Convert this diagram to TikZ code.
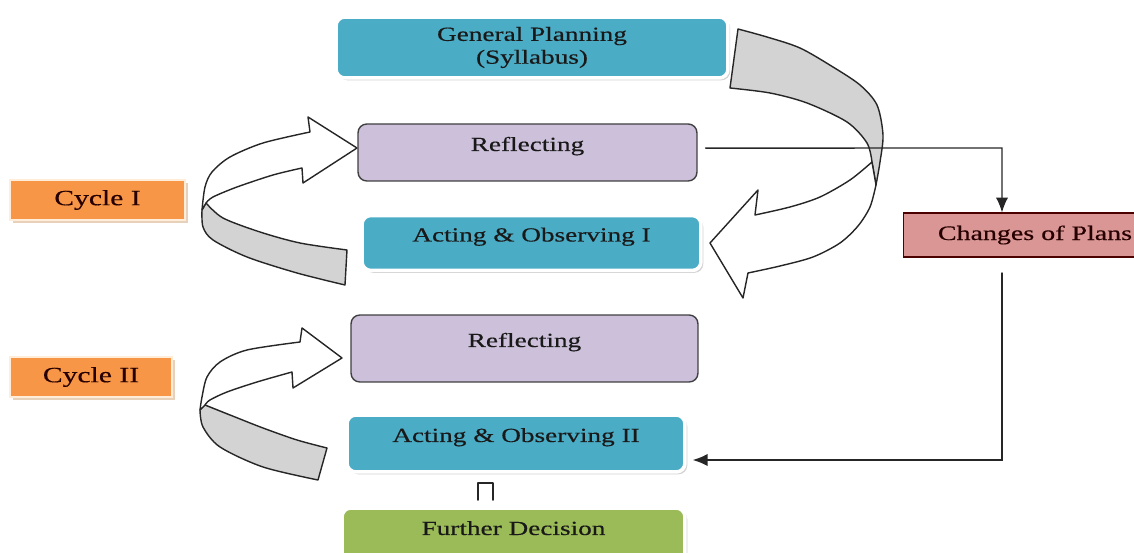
\documentclass[tikz,border=0pt]{standalone}
\usepackage{fontspec}
\setmainfont{Liberation Serif}[FakeStretch=1.36,FakeBold=0.4]
\usetikzlibrary{shadows,arrows.meta}
\definecolor{aqua}{HTML}{4BACC6}
\definecolor{lilac}{HTML}{CCC0DA}
\definecolor{tangerine}{HTML}{F79646}
\definecolor{olive}{HTML}{9BBB59}
\definecolor{rose}{HTML}{D99694}
\definecolor{backside}{HTML}{D3D3D3}
\tikzset{
	box/.style={rectangle,rounded corners=5pt,inner sep=2pt,text=black!90,
		font=\fontsize{11.4}{13}\selectfont},
	glowbox/.style={box,draw=white,line width=2pt,
		drop shadow={shadow xshift=1.3pt,shadow yshift=-1.3pt,fill=black!35,opacity=.5}},
	bluebox/.style={glowbox,fill=aqua},
	greenbox/.style={glowbox,fill=olive},
	purplebox/.style={box,fill=lilac,draw=black!75,line width=.8pt},
	cyclebox/.style={rectangle,fill=tangerine,draw=orange!15,line width=1.5pt,
		text=black!85!red,font=\fontsize{12.4}{14}\selectfont,
		drop shadow={shadow xshift=1.5pt,shadow yshift=-1.5pt,fill=brown!60,opacity=.6}},
	changebox/.style={rectangle,fill=rose,draw=black!70!red,line width=.6pt,
		text=black!85!red,font=\fontsize{11.7}{13}\selectfont},
	raised/.style={text height=.3cm,text depth=.36cm},
	ribbon/.style={draw=black!85,line width=.8pt,line join=round},
	link/.style={draw=black!85,line width=.8pt},
}
\begin{document}
\begin{tikzpicture}[>={Latex[length=8.5pt,width=7pt]},x=0.02cm,y=-0.02cm,line cap=round]
	\clip (0,0) rectangle (1134,553);
	% big sweep from the plan down to the first cycle
	\filldraw[ribbon,fill=backside] plot[smooth] coordinates {(738,29) (767,37) (800,48) (833,67) (860,85) (877,105) (883,135) (880,162) (876,185)}
		-- (872,162) -- plot[smooth] coordinates {(872,162) (867,143) (847,122) (807,103) (770,93) (730,88)} -- cycle;
	\filldraw[ribbon,fill=white] plot[smooth] coordinates {(872,162) (850,180) (820,197) (790,207) (755,215)}
		-- (758,190) -- (710,243) -- (743,298)
		-- plot[smooth] coordinates {(748,273) (780,266) (813,257) (840,243) (858,226) (870,207) (876,185)} -- cycle;
	% cycle I turn
	\filldraw[ribbon,fill=backside] plot[smooth] coordinates {(206,203) (223,218) (260,232) (300,243) (347,250)}
		-- (345,285) -- plot[smooth] coordinates {(345,285) (297,273) (247,257) (213,240) (203,227) (202,210)} -- cycle;
	\filldraw[ribbon,fill=white] plot[smooth] coordinates {(202,210) (205,187) (212,172) (230,157) (263,143) (310,132)}
		-- (308,117) -- (357,148) -- (303,183)
		-- plot[smooth] coordinates {(302,168) (273,175) (237,187) (213,197) (206,203)} -- cycle;
	% cycle II turn
	\filldraw[ribbon,fill=backside] plot[smooth] coordinates {(205,405) (230,415) (263,428) (297,440) (327,448)}
		-- (318,480) -- plot[smooth] coordinates {(318,480) (263,467) (220,447) (203,427) (200,410)} -- cycle;
	\filldraw[ribbon,fill=white] plot[smooth] coordinates {(200,410) (202,397) (207,377) (220,362) (247,350) (300,342)}
		-- (302,328) -- (342,358) -- (293,388)
		-- plot[smooth] coordinates {(292,372) (257,382) (227,392) (210,400) (205,405)} -- cycle;

	\node[bluebox,minimum width=7.84cm,minimum height=1.22cm,align=center] (plan) at (532,47.5) {General Planning\\(Syllabus)};
	\node[purplebox,raised,minimum width=6.78cm,minimum height=1.14cm] (refA) at (527.5,152.5) {Reflecting};
	\node[bluebox,raised,minimum width=6.78cm,minimum height=1.1cm] (actA) at (531.5,243) {Acting \& Observing I};
	\node[purplebox,raised,minimum width=6.94cm,minimum height=1.34cm] (refB) at (524.5,348.5) {Reflecting};
	\node[bluebox,raised,minimum width=6.76cm,minimum height=1.14cm] (actB) at (516,443.5) {Acting \& Observing II};
	\node[greenbox,raised,minimum width=6.86cm,minimum height=1.14cm] (decide) at (513.5,536.5) {Further Decision};
	\node[cyclebox,minimum width=3.5cm,minimum height=.8cm] (cycA) at (97.5,200) {Cycle I};
	\node[cyclebox,minimum width=3.24cm,minimum height=.8cm] (cycB) at (91,377) {Cycle II};
	\node[changebox,minimum width=5.28cm,minimum height=.88cm] (chg) at (1035,235) {Changes of Plans};

	\path (1002,148) coordinate (turn) (1002,273) coordinate (back);
	\draw[link,->] ([xshift=4.5pt,yshift=2.5pt]refA.east) -- (turn) -- (turn |- chg.north);
	\draw[link,->] (back) |- ([xshift=3.4pt,yshift=-9.4pt]actB.east);
	% narrow step down to the decision
	\draw[ribbon,line width=1.1pt,fill=white] (478,500) -- (478,483) -- (493,483) -- (493,500);
\end{tikzpicture}
\end{document}
